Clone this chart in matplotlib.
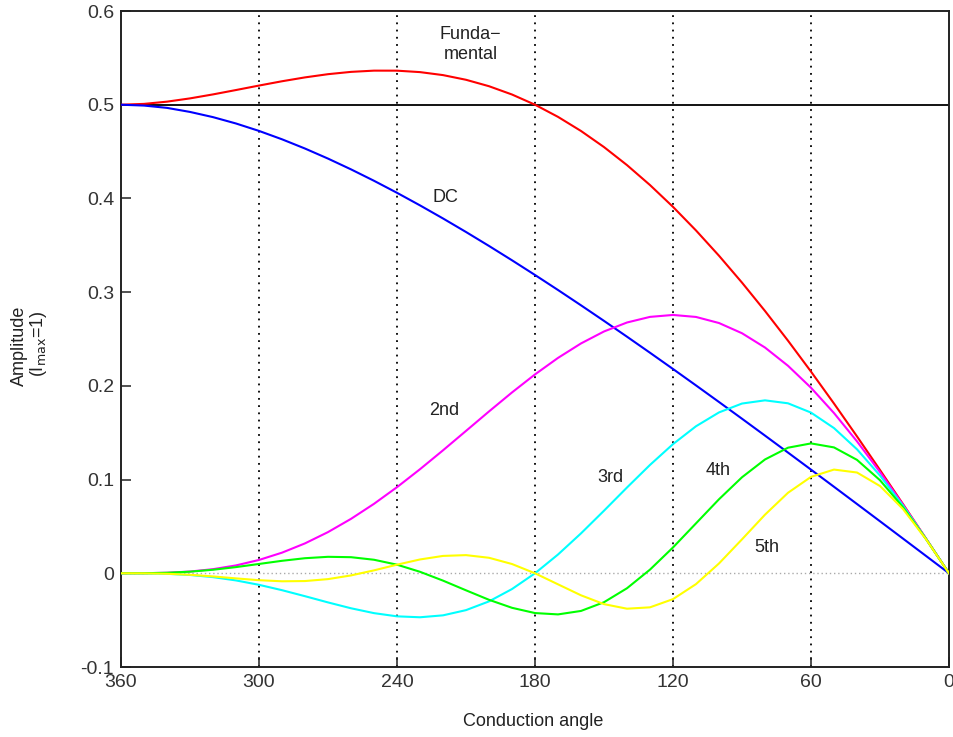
import matplotlib
matplotlib.use("Agg")
import matplotlib.pyplot as plt

angle = [0, 10, 20, 30, 40, 50, 60, 70, 80, 90, 100, 110, 120, 130, 140, 150, 160, 170, 180,
         190, 200, 210, 220, 230, 240, 250, 260, 270, 280, 290, 300, 310, 320, 330, 340, 350, 360]

dc = [0, .01852, .03702, .05550, .07392, .09230, .11060, .12881, .14692, .16492, .18277, .20047,
      .21800, .23533, .25245, .26933, .28595, .30229, .31831, .33399, .34929, .36419, .37863,
      .39258, .40600, .41883, .43102, .44251, .45323, .46310, .47204, .47996, .48675, .49230,
      .49662, .49909, .5]

fund = [0, .03701, .07381, .11022, .14606, .18112, .21522, .24821, .27990, .31016, .33885, .36583,
        .39100, .41427, .43555, .45480, .47197, .48703, .5, .51089, .51974, .52661, .53160,
        .53479, .53633, .53636, .53504, .53258, .52916, .52503, .52044, .51567, .51100, .50675,
        .50326, .50088, .5]

h2 = [0, .03692, .07313, .10798, .14078, .17096, .19799, .22142, .24089, .25615, .26705, .27353,
      .27566, .27360, .26761, .25803, .24527, .22982, .21221, .19297, .17269, .15192, .13121,
      .11105, .09189, .07412, .05807, .04395, .03191, .02201, .01422, .00840, .00438, .00187,
      .00056, .00007, 0]

h3 = [0, .03678, .07201, .10430, .13229, .15494, .17147, .18138, .18454, .18113, .17166, .15689,
      .13783, .11563, .09153, .06678, .04259, .02003, 0, -.01682, -.02999, -.03932, -.04488,
      -.04693, -.04594, -.04252, -.03733, -.03108, -.02445, -.01803, -.01231, -.00762, -.00411,
      -.00181, -.00055, -.00007, 0]

h4 = [0, .03658, .07043, .09930, .12102, .13432, .13859, .13401, .12146, .10246, .07900, .05328,
      .02757, .00392, -.01596, -.03086, -.04018, -.04387, -.04244, -.03684, -.02829, -.01817,
      -.00782, .00159, .00919, .01444, .01718, .01758, .01609, .01332, .00995, .00660, .00376,
      .00172, .00054, .00007, 0]

h5 = [0, .03633, .06855, .09312, .10753, .11067, .10288, .08590, .06254, .03623, .01049, -.01155,
      -.02757, -.03633, -.03779, -.03291, -.02350, -.01178, 0, .00989, .01655, .01938, .01853,
      .01475, .00919, .00313, -.00228, -.00622, -.00829, -.00854, -.00739, -.00544, -.00334,
      -.00161, -.00052, -.00007, 0]

xticks = [360, 300, 240, 180, 120, 60, 0]
yticks = [-0.1, 0, 0.1, 0.2, 0.3, 0.4, 0.5, 0.6]
ytick_labels = ['-0.1', '0', '0.1', '0.2', '0.3', '0.4', '0.5', '0.6']
grid_x = [300, 240, 180, 120, 60]

plt.rcParams['font.family'] = ['Liberation Sans', 'DejaVu Sans']

fig = plt.figure(figsize=(9.54, 7.37), dpi=100)
W, H = 954, 737
ax = fig.add_axes([121 / W, 1 - 667 / H, (949 - 121) / W, (667 - 11) / H])

for gx in grid_x:
    ax.axvline(gx, color='black', linestyle=(0, (1, 3)), linewidth=1.3, zorder=1)
ax.axhline(0, color='#aaaaaa', linestyle=(0, (1, 2)), linewidth=1.0, zorder=1)
ax.axhline(0.5, color='black', linewidth=1.3, zorder=1)

lw = 1.5
ax.plot(angle, fund, color='#ff0000', linewidth=lw, zorder=3)
ax.plot(angle, dc, color='#0000ff', linewidth=lw, zorder=3)
ax.plot(angle, h2, color='#ff00ff', linewidth=lw, zorder=3)
ax.plot(angle, h3, color='#00ffff', linewidth=lw, zorder=3)
ax.plot(angle, h4, color='#00ff00', linewidth=lw, zorder=3)
ax.plot(angle, h5, color='#ffff00', linewidth=lw, zorder=3)

ax.set_xlim(360, 0)
ax.set_ylim(-0.1, 0.6)
ax.set_xticks(xticks)
ax.set_xticklabels([str(v) for v in xticks])
ax.set_yticks(yticks)
ax.set_yticklabels(ytick_labels)
ax.tick_params(direction='in', length=7, width=1.1, labelsize=14, colors='#222222',
               labelcolor='#333333', pad=5)
for sp in ax.spines.values():
    sp.set_linewidth(1.4)
    sp.set_color('#222222')

fs = 13
tc = '#222222'
ax.text(208, 0.564, 'Funda\u2212\nmental', ha='center', va='center', fontsize=fs, color=tc,
        linespacing=1.2)
ax.text(219, 0.401, 'DC', ha='center', va='center', fontsize=fs, color=tc)
ax.text(219.5, 0.174, '2nd', ha='center', va='center', fontsize=fs, color=tc)
ax.text(147, 0.102, '3rd', ha='center', va='center', fontsize=fs, color=tc)
ax.text(100.5, 0.110, '4th', ha='center', va='center', fontsize=fs, color=tc)
ax.text(79, 0.027, '5th', ha='center', va='center', fontsize=fs, color=tc)

fig.text(533 / W, 1 - 722 / H, 'Conduction angle', ha='center', va='center', fontsize=fs, color=tc)
fig.text(19 / W, 1 - 346 / H, 'Amplitude', ha='center', va='center', rotation=90, fontsize=fs, color=tc)
fig.text(38.5 / W, 1 - 344 / H, r'(I$_{\rm max}$=1)', ha='center', va='center', rotation=90,
         fontsize=fs, color=tc)

fig.savefig('out.png', dpi=100)
